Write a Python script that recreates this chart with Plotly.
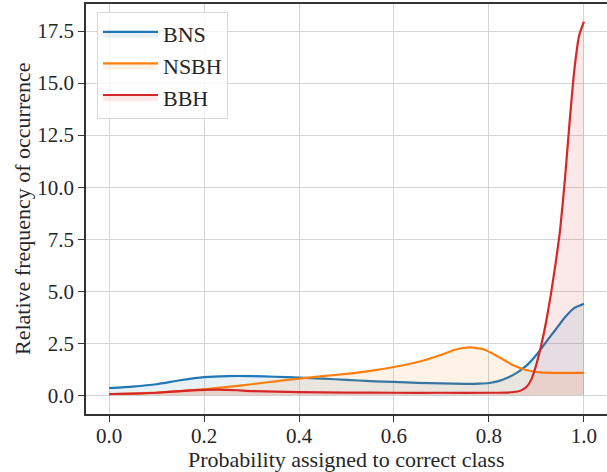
import plotly.graph_objects as go

# BNS
bns_x = [0.0, 0.05, 0.1, 0.15, 0.2, 0.25, 0.3, 0.35, 0.4, 0.45, 0.5, 0.55, 0.6, 0.65, 0.7, 0.75, 0.78, 0.8, 0.82, 0.84, 0.86, 0.88, 0.9, 0.92, 0.94, 0.96, 0.98, 1.0]
bns_y = [0.35, 0.42, 0.53, 0.72, 0.87, 0.92, 0.92, 0.89, 0.85, 0.80, 0.74, 0.68, 0.64, 0.60, 0.57, 0.55, 0.56, 0.59, 0.68, 0.85, 1.1, 1.45, 1.95, 2.55, 3.15, 3.75, 4.2, 4.4]

# NSBH
nsbh_x = [0.0, 0.05, 0.1, 0.15, 0.2, 0.25, 0.3, 0.35, 0.4, 0.45, 0.5, 0.55, 0.6, 0.65, 0.7, 0.73, 0.76, 0.79, 0.82, 0.85, 0.88, 0.91, 0.94, 0.97, 1.0]
nsbh_y = [0.05, 0.08, 0.13, 0.2, 0.29, 0.4, 0.53, 0.67, 0.8, 0.92, 1.03, 1.17, 1.36, 1.6, 1.95, 2.2, 2.3, 2.2, 1.85, 1.45, 1.2, 1.1, 1.08, 1.08, 1.08]

# BBH
bbh_x = [0.0, 0.05, 0.1, 0.15, 0.2, 0.23, 0.27, 0.3, 0.4, 0.5, 0.6, 0.7, 0.8, 0.84, 0.86, 0.87, 0.88, 0.89, 0.9, 0.91, 0.92, 0.93, 0.94, 0.95, 0.96, 0.97, 0.98, 0.99, 1.0]
bbh_y = [0.06, 0.08, 0.12, 0.2, 0.26, 0.27, 0.24, 0.2, 0.15, 0.13, 0.12, 0.12, 0.12, 0.13, 0.18, 0.26, 0.42, 0.8, 1.5, 2.4, 3.5, 4.8, 6.3, 8.0, 10.4, 13.2, 15.7, 17.3, 17.95]

x_ticks = [0.0, 0.2, 0.4, 0.6, 0.8, 1.0]
y_ticks = [0.0, 2.5, 5.0, 7.5, 10.0, 12.5, 15.0, 17.5]

x_title = "Probability assigned to correct class"
y_title = "Relative frequency of occurrence"

series = [
    ("BNS", bns_x, bns_y, "#1f77b4", "rgba(31,119,180,0.1)"),
    ("NSBH", nsbh_x, nsbh_y, "#ff7f0e", "rgba(255,127,14,0.1)"),
    ("BBH", bbh_x, bbh_y, "#d62728", "rgba(214,39,40,0.1)"),
]

fig = go.Figure()
for name, xs, ys, col, fcol in series:
    fig.add_trace(go.Scatter(
        x=xs, y=ys, name=name, mode="lines",
        line=dict(color=col, width=2.2, shape="spline", smoothing=0.5),
        fill="tozeroy", fillcolor=fcol,
    ))

font_family = "Liberation Serif, Times New Roman, serif"
W, H = 607, 472
L, R, T, B = 86, 0, 4, 58
pw, ph = W - L - R, H - T - B

fig.update_layout(
    width=W, height=H,
    margin=dict(l=L, r=R, t=T, b=B, autoexpand=False),
    plot_bgcolor="white", paper_bgcolor="white",
    font=dict(family=font_family, size=21, color="#262626"),
    showlegend=True,
    legend=dict(
        x=(97 - L) / pw, y=1 - (12 - T) / ph, xanchor="left", yanchor="top",
        bgcolor="rgba(255,255,255,0.8)", bordercolor="#d9d9d9", borderwidth=1,
        font=dict(family=font_family, size=22, color="#262626"),
        itemwidth=55, entrywidth=125, entrywidthmode="pixels",
    ),
    xaxis=dict(
        range=[-0.0485, 1.0485], tickvals=x_ticks,
        ticktext=[f"{v:.1f}" for v in x_ticks],
        showgrid=True, gridcolor="#d5d5d5", gridwidth=1,
        showline=True, linecolor="#333333", linewidth=1.5, mirror=True,
        ticks="outside", ticklen=6, tickcolor="#333333", tickwidth=1.25,
        ticklabelstandoff=-4,
        zeroline=False, automargin=False,
    ),
    yaxis=dict(
        range=[-0.9, 18.8], tickvals=y_ticks,
        ticktext=[f"{v:.1f}" for v in y_ticks],
        showgrid=True, gridcolor="#d5d5d5", gridwidth=1,
        showline=True, linecolor="#333333", linewidth=1.5, mirror=False,
        ticks="outside", ticklen=6, tickcolor="#333333", tickwidth=1.25,
        zeroline=False, automargin=False,
    ),
    annotations=[
        dict(text=x_title, xref="paper", yref="paper",
             x=(346 - L) / pw, y=-(459 - (T + ph)) / ph,
             xanchor="center", yanchor="middle", showarrow=False,
             font=dict(size=22, family=font_family, color="#262626")),
        dict(text=y_title, xref="paper", yref="paper",
             x=-(L - 22) / pw, y=0.5, textangle=-90,
             xanchor="center", yanchor="middle", showarrow=False,
             font=dict(size=22, family=font_family, color="#262626")),
    ],
)

fig.write_html("out.html", config={"displayModeBar": False},
               post_script="document.body.style.margin='0';document.body.style.padding='0';")
